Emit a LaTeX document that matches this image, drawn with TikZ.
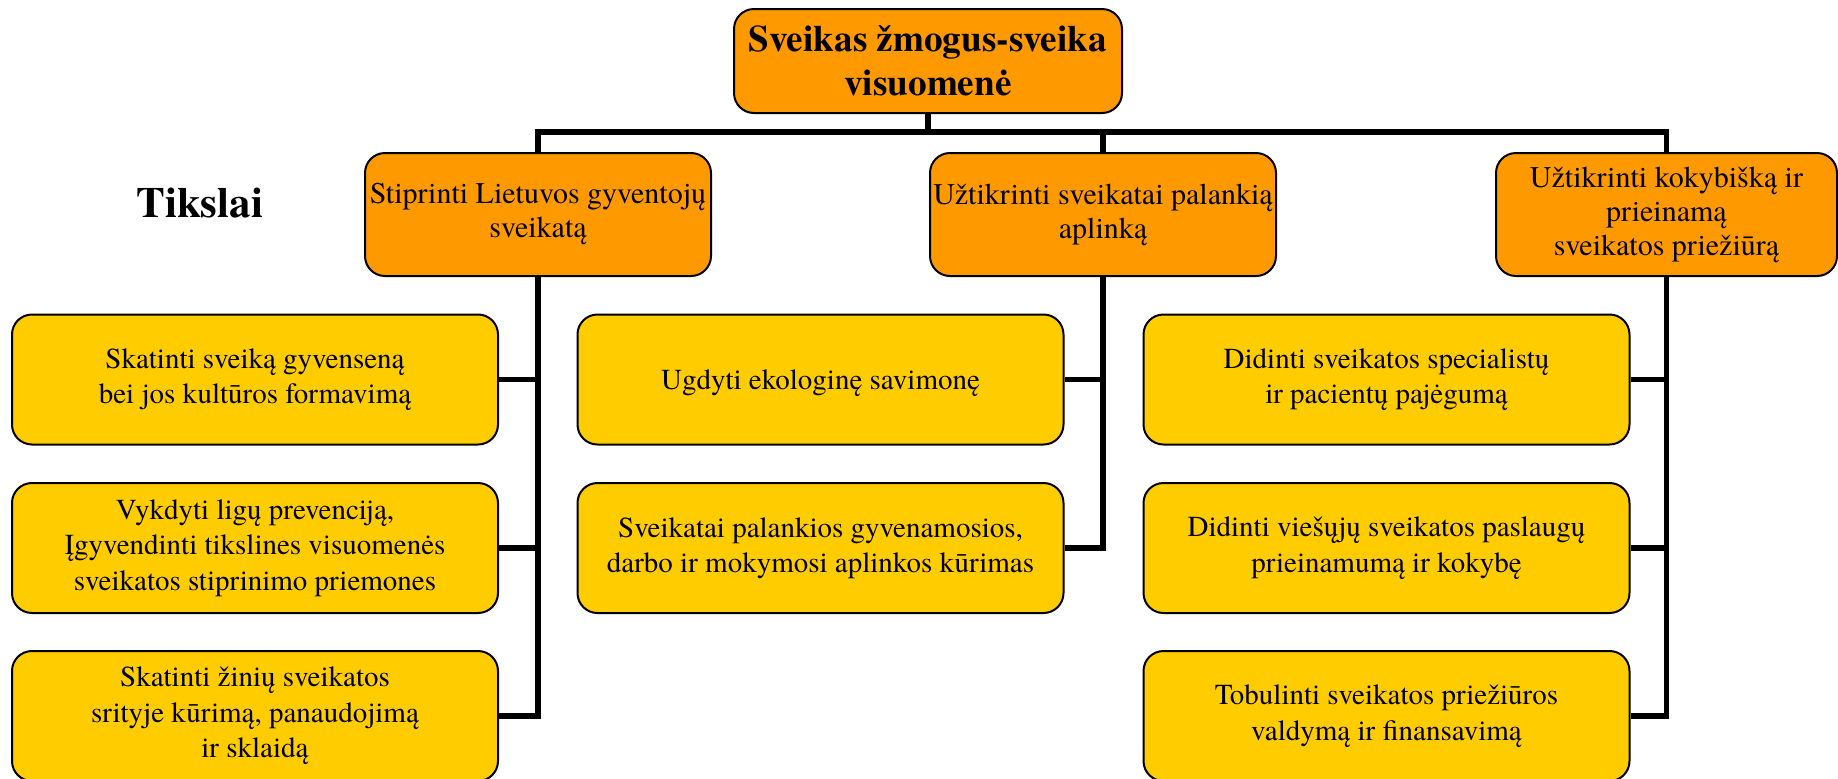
\documentclass[tikz,border=0pt]{standalone}
\usepackage{fontspec}
\setmainfont{texgyretermes}[Extension=.otf, UprightFont=*-regular, BoldFont=*-bold, ItalicFont=*-italic, BoldItalicFont=*-bolditalic]
\usetikzlibrary{positioning, calc}
\definecolor{tikslas}{HTML}{FF9900}
\definecolor{uzdavinys}{HTML}{FFCC00}
\tikzstyle{rootbox} = [rectangle, rounded corners=10pt, draw=black, line width=1pt, fill=tikslas, align=center, inner sep=0pt, minimum width=194pt, minimum height=52pt, font=\fontsize{18.6}{22}\selectfont\bfseries]
\tikzstyle{goalbox} = [rectangle, rounded corners=10pt, draw=black, line width=1pt, fill=tikslas, align=center, inner sep=0pt, minimum width=173pt, minimum height=61.5pt, font=\fontsize{15}{17}\selectfont, execute at begin node={\rule{0pt}{13.2pt}}]
\tikzstyle{taskbox} = [rectangle, rounded corners=10pt, draw=black, line width=1pt, fill=uzdavinys, align=center, inner sep=0pt, minimum width=243pt, minimum height=65pt, font=\fontsize{14.5}{17.75}\selectfont, execute at begin node={\rule{0pt}{13.9pt}}]
\tikzstyle{jungtis} = [line width=2.75pt]

\begin{document}
\begin{tikzpicture}[x=0.5pt, y=-0.5pt]
    \clip (0,0) rectangle (1838,778);

    % Pagrindinis tikslas
    \node (root) [rootbox] at (928,61) {Sveikas žmogus-sveika\\visuomenė};
    \node (tikslai) [font=\fontsize{21.5}{25}\selectfont\bfseries] at (200,203) {Tikslai};

    % Tikslai
    \node (goal1) [goalbox] at (538,214.5) {Stiprinti Lietuvos gyventojų\\sveikatą};
    \node (goal2) [goalbox] at (1103,214.5) {Užtikrinti sveikatai palankią\\aplinką};
    \node (goal3) [goalbox, minimum width=170.5pt] at (1666.5,214.5) {Užtikrinti kokybišką ir\\prieinamą\\sveikatos priežiūrą};

    % Pirmas stulpelis
    \node (task1a) [taskbox] at (255,379.5) {Skatinti sveiką gyvenseną\\bei jos kultūros formavimą};
    \node (task1b) [taskbox] at (255,548) {Vykdyti ligų prevenciją,\\Įgyvendinti tikslines visuomenės\\sveikatos stiprinimo priemones};
    \node (task1c) [taskbox] at (255,716) {Skatinti žinių sveikatos\\srityje kūrimą, panaudojimą\\ir sklaidą};

    % Antras stulpelis
    \node (task2a) [taskbox] at (820.5,379.5) {Ugdyti ekologinę savimonę};
    \node (task2b) [taskbox] at (820.5,548) {Sveikatai palankios gyvenamosios,\\darbo ir mokymosi aplinkos kūrimas};

    % Trečias stulpelis
    \node (task3a) [taskbox] at (1386.5,379.5) {Didinti sveikatos specialistų\\ir pacientų pajėgumą};
    \node (task3b) [taskbox] at (1386.5,548) {Didinti viešųjų sveikatos paslaugų\\prieinamumą ir kokybę};
    \node (task3c) [taskbox] at (1386.5,716) {Tobulinti sveikatos priežiūros\\valdymą ir finansavimą};

    % Jungtys
    \coordinate (bus) at (928,132);
    \draw [jungtis] (root) -- (bus);
    \draw [jungtis] (goal1.north) |- (bus);
    \draw [jungtis] (goal2.north) |- (bus);
    \draw [jungtis] (goal3.north) |- (bus);

    \draw [jungtis] (goal1.south) |- (task1a.east);
    \draw [jungtis] (goal1.south) |- (task1b.east);
    \draw [jungtis] (goal1.south) |- (task1c.east);

    \draw [jungtis] (goal2.south) |- (task2a.east);
    \draw [jungtis] (goal2.south) |- (task2b.east);

    \draw [jungtis] (goal3.south) |- (task3a.east);
    \draw [jungtis] (goal3.south) |- (task3b.east);
    \draw [jungtis] (goal3.south) |- (task3c.east);
\end{tikzpicture}
\end{document}
